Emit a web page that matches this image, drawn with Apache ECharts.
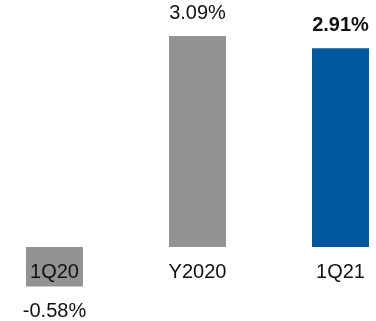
<!DOCTYPE html>
<html><head><meta charset="utf-8">
<script src="https://cdn.jsdelivr.net/npm/echarts@6/dist/echarts.min.js"></script>
<style>html,body{margin:0;padding:0;background:#fff}#c{width:376px;height:321px}</style>
</head><body><div id="c"></div>
<script>
var categories = ['1Q20', 'Y2020', '1Q21'];
var values = [-0.58, 3.09, 2.91];
var labels = ['-0.58%', '3.09%', '2.91%'];
var colors = ['#939396', '#939396', '#00589e'];
var bold = [false, false, true];

var chart = echarts.init(document.getElementById('c'));
chart.setOption({
  animation: false,
  grid: { left: -17, right: -36, top: 8, bottom: 5.7, containLabel: false, outerBoundsMode: 'none' },
  xAxis: {
    type: 'category', data: categories, z: 10, zlevel: 0,
    position: 'bottom', offset: -68.3,
    axisLine: { show: false, onZero: false },
    axisTick: { show: false },
    axisLabel: { fontFamily: 'Liberation Sans', fontSize: 20, color: '#111', margin: 15 }
  },
  yAxis: { type: 'value', min: -1, max: 3.5, show: false, splitLine: { show: false } },
  series: [{
    type: 'bar', barWidth: 57, z: 2,
    data: values.map(function (v, i) {
      return {
        value: v,
        itemStyle: { color: colors[i] },
        label: {
          show: true,
          position: v < 0 ? 'bottom' : 'top',
          distance: v < 0 ? 15 : 13,
          formatter: labels[i],
          fontFamily: 'Liberation Sans', fontSize: 20, color: '#111',
          fontWeight: bold[i] ? 'bold' : 'normal'
        }
      };
    })
  }]
});
</script></body></html>
